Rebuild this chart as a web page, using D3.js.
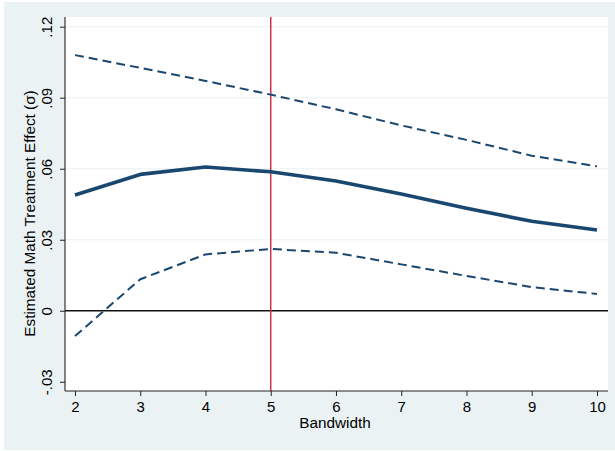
<!DOCTYPE html>
<html>
<head>
<meta charset="utf-8">
<script src="https://cdn.jsdelivr.net/npm/d3@7"></script>
<style>
  html, body { margin: 0; padding: 0; background: #ffffff; }
  svg { display: block; }
  text { font-family: "Liberation Sans", Arial, sans-serif; fill: #000; }
</style>
</head>
<body>
<svg id="chart" width="615" height="451"></svg>
<script>
// Bandwidths used for the local regression
const bandwidths = [2, 3, 4, 5, 6, 7, 8, 9, 10];
// Point estimates and 95% confidence bounds (in SD units)
const estimate = [0.0489, 0.0576, 0.0607, 0.0587, 0.0548, 0.0493, 0.0433, 0.0378, 0.0341];
const upperCI  = [0.1080, 0.1026, 0.0971, 0.0913, 0.0851, 0.0783, 0.0722, 0.0655, 0.0610];
const lowerCI  = [-0.0107, 0.0133, 0.0238, 0.0261, 0.0245, 0.0196, 0.0147, 0.0100, 0.0071];
// Axis ticks
const yTicks = [-0.03, 0, 0.03, 0.06, 0.09, 0.12];
const yTickLabels = ["-.03", "0", ".03", ".06", ".09", ".12"];
const xTicks = [2, 3, 4, 5, 6, 7, 8, 9, 10];
const chosenBandwidth = 5;

const navy = "#1a476f";
const tickFont = 15;
const titleFont = 15.3;
const svg = d3.select("#chart");

// Graph region background
svg.append("rect")
  .attr("x", 4).attr("y", 2).attr("width", 611).attr("height", 448)
  .attr("fill", "#eaf2f3");

const plot = { left: 65, right: 608, top: 17, bottom: 391 };

svg.append("rect")
  .attr("x", plot.left).attr("y", plot.top)
  .attr("width", plot.right - plot.left).attr("height", plot.bottom - plot.top)
  .attr("fill", "#ffffff");

const x = d3.scaleLinear().domain([1.847, 10.169]).range([plot.left, plot.right]);
const y = d3.scaleLinear().domain([-0.0339, 0.1241]).range([plot.bottom, plot.top]);

// Horizontal grid lines
svg.append("g")
  .selectAll("line")
  .data(yTicks.filter(t => t > 0))
  .join("line")
  .attr("x1", plot.left).attr("x2", plot.right)
  .attr("y1", d => y(d)).attr("y2", d => y(d))
  .attr("stroke", "#eaf2f3").attr("stroke-width", 1.2);

// Reference line at zero
svg.append("line")
  .attr("x1", plot.left).attr("x2", plot.right)
  .attr("y1", y(0)).attr("y2", y(0))
  .attr("stroke", "#111").attr("stroke-width", 1.3);

// Chosen bandwidth marker
svg.append("line")
  .attr("x1", x(chosenBandwidth)).attr("x2", x(chosenBandwidth))
  .attr("y1", plot.top).attr("y2", plot.bottom)
  .attr("stroke", "#c8334f").attr("stroke-width", 1.5);

const line = d3.line().x(d => x(d[0])).y(d => y(d[1]));
const series = [
  { values: upperCI, width: 2, dash: "9,5" },
  { values: lowerCI, width: 2, dash: "9,5" },
  { values: estimate, width: 3.6, dash: null }
];
svg.append("g")
  .selectAll("path")
  .data(series)
  .join("path")
  .attr("d", s => line(bandwidths.map((b, i) => [b, s.values[i]])))
  .attr("fill", "none")
  .attr("stroke", navy)
  .attr("stroke-width", s => s.width)
  .attr("stroke-dasharray", s => s.dash)
  .attr("stroke-linejoin", "round");

// Y axis
const yAxis = d3.axisLeft(y)
  .tickValues(yTicks)
  .tickFormat((d, i) => yTickLabels[i])
  .tickSize(5).tickPadding(4);
const gy = svg.append("g").attr("transform", `translate(${plot.left},0)`).call(yAxis);
gy.select(".domain").attr("d", `M0,${plot.top}V${plot.bottom}`).attr("stroke", "#222").attr("stroke-width", 1.1);
gy.selectAll(".tick line").attr("stroke", "#222");
gy.selectAll(".tick text")
  .attr("font-size", tickFont)
  .attr("font-family", "Liberation Sans, Arial, sans-serif")
  .attr("text-anchor", "middle")
  .attr("dy", null)
  .attr("x", null)
  .attr("transform", "translate(-13.5,0) rotate(-90)");

// X axis
const xAxis = d3.axisBottom(x).tickValues(xTicks).tickFormat(d3.format("d")).tickSize(5).tickPadding(5.5);
const gx = svg.append("g").attr("transform", `translate(0,${plot.bottom})`).call(xAxis);
gx.select(".domain").attr("d", `M${plot.left},0H${plot.right}`).attr("stroke", "#222").attr("stroke-width", 1.1);
gx.selectAll(".tick line").attr("stroke", "#222");
gx.selectAll(".tick text")
  .attr("font-size", tickFont)
  .attr("font-family", "Liberation Sans, Arial, sans-serif");

// Axis titles
svg.append("text")
  .attr("x", 335).attr("y", 428)
  .attr("text-anchor", "middle")
  .attr("font-size", titleFont)
  .text("Bandwidth");

svg.append("text")
  .attr("transform", "translate(34.5,213.5) rotate(-90)")
  .attr("text-anchor", "middle")
  .attr("font-size", titleFont)
  .text("Estimated Math Treatment Effect (σ)");
</script>
</body>
</html>
